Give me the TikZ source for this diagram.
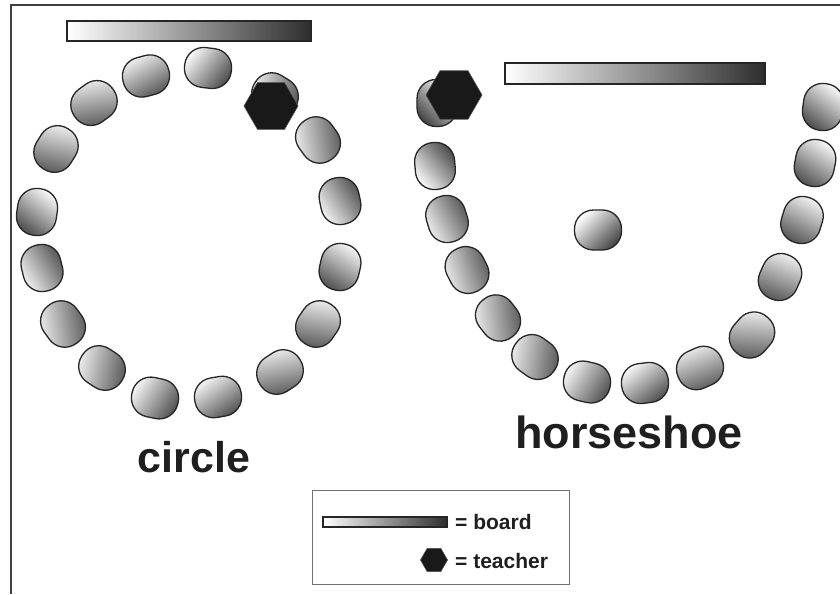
\documentclass[tikz,border=0pt]{standalone}
\usepackage{fontspec}
\setmainfont{Liberation Sans}
\usetikzlibrary{shapes.geometric}
\begin{document}
\begin{tikzpicture}[x=1pt,y=-1pt,
  seat/.style={draw=black!85, line width=1.3pt, rounded corners=19pt,
    minimum width=47pt, minimum height=40pt, inner sep=0pt,
    top color=white, middle color=black!14, bottom color=black!72},
  board/.style={draw=black!85, line width=1.5pt, inner sep=0pt,
    left color=white, middle color=black!22, right color=black!82},
  teacher/.style={regular polygon, regular polygon sides=6, inner sep=0pt,
    fill=black!90, draw=black!70, line width=0.6pt},
  label/.style={font=\bfseries, text=black!88, inner sep=0pt},
  frame/.style={draw=black!75, line width=1.5pt}]
\useasboundingbox (0,0) rectangle (840,594);
\fill[white] (0,0) rectangle (840,594);
\draw[frame] (11,594) -- (11,5) -- (840,5);

% circle arrangement
\node[board, minimum width=244pt, minimum height=20pt] (b1) at (189,31) {};
\foreach \x/\y/\r [count=\i, evaluate=\r as \sa using 45-\r] in
  {208/68/-7, 146/76/15, 94/103/36, 56/149/58, 37/212/82, 42/268/-76,
   63/324/-54, 102/368/-33, 155/398/-12, 218/397/10, 280/372/33,
   318/324/55, 340/267/77, 340/201/-78, 318/140/-54, 275/95/-32}
  \node[seat, rotate=\r, shading angle=\sa] (c\i) at (\x,\y) {};
\node[teacher, minimum size=54pt] (t1) at (271,106) {};
\node[label, font=\fontsize{43}{43}\selectfont\bfseries, anchor=base] (lc) at (194,472) {circle};

% horseshoe arrangement
\node[board, minimum width=260pt, minimum height=21pt] (b2) at (635,73.5) {};
\foreach \x/\y/\r [count=\i, evaluate=\r as \sa using 45-\r] in
  {437/103/90, 435/166/-85, 447/219/-73, 467/270/-63, 498/318/-52,
   535/357/-36, 587/382/-13, 645/383/7, 700/368/24, 752/335/49,
   780/277/66, 802/220/73, 815/163/79, 823/107/82, 598/230/0}
  \node[seat, rotate=\r, shading angle=\sa] (h\i) at (\x,\y) {};
\node[teacher, minimum size=56pt] (t2) at (454,95) {};
\node[label, font=\fontsize{45}{45}\selectfont\bfseries, anchor=base] (lh) at (629,448) {horseshoe};

% legend
\node[draw=black!55, line width=1pt, minimum width=257pt, minimum height=94pt, inner sep=0pt] (leg) at (440.5,537) {};
\node[board, line width=1.2pt, minimum width=124pt, minimum height=10pt] (lb) at (385,522) {};
\node[teacher, minimum size=27pt] (lt) at (434,560) {};
\node[label, font=\fontsize{21}{21}\selectfont\bfseries, anchor=base west] (lbt) at (455,529) {= board};
\node[label, font=\fontsize{21}{21}\selectfont\bfseries, anchor=base west] (ltt) at (455,568) {= teacher};
\end{tikzpicture}
\end{document}
